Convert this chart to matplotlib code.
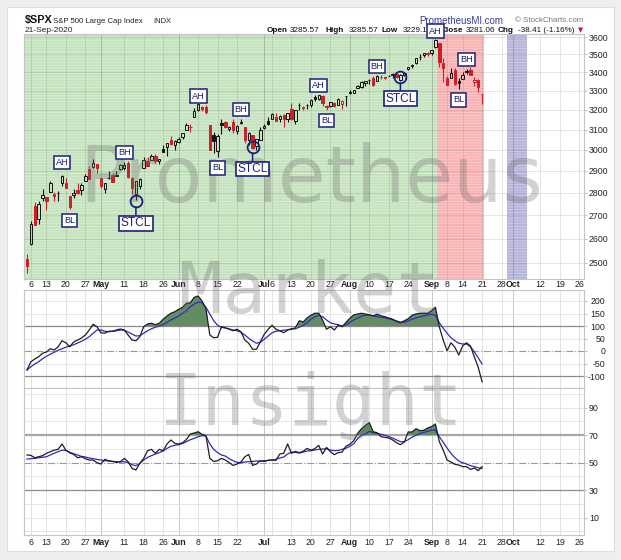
import matplotlib
matplotlib.use('Agg')
import matplotlib.pyplot as plt
from matplotlib.patches import Rectangle
from matplotlib.ticker import FixedLocator, NullLocator
import numpy as np
import pandas as pd

plt.rcParams['font.family'] = ['Liberation Sans', 'DejaVu Sans']
plt.rcParams['hatch.linewidth'] = 0.6

W, H = 621, 560

# --- data -------------------------------------------------------------
holidays = ['2020-04-10', '2020-05-25', '2020-07-03', '2020-09-07']
prev_close = 2526.90   # close before the first bar (Apr 2)

open_ = [2514.92, 2578.28, 2738.65, 2685.00, 2776.99, 2782.46, 2805.10, 2795.64, 2799.34, 2842.43,
         2845.62, 2784.81, 2787.89, 2810.42, 2812.64, 2854.65, 2909.96, 2918.46, 2930.91, 2869.09,
         2815.01, 2868.88, 2883.14, 2878.26, 2908.83, 2915.46, 2939.50, 2865.86, 2794.54, 2829.95,
         2913.86, 2948.59, 2953.63, 2969.95, 2948.05, 3004.08, 3015.65, 3046.61, 3025.17, 3038.78,
         3064.78, 3098.90, 3111.56, 3163.84, 3199.92, 3213.32, 3213.42, 3123.53, 3071.04, 2993.76,
         3131.00, 3136.13, 3101.64, 3140.29, 3094.42, 3138.70, 3114.40, 3046.60, 3073.20, 3018.59,
         3050.20, 3105.92, 3143.64, 3155.29, 3166.44, 3153.07, 3176.17, 3152.47, 3205.08, 3141.11,
         3225.98, 3208.36, 3224.21, 3224.29, 3268.52, 3254.86, 3271.64, 3218.58, 3219.84, 3234.27,
         3227.22, 3231.76, 3270.45, 3288.26, 3289.92, 3317.37, 3323.17, 3340.05, 3356.04, 3370.34,
         3355.46, 3372.95, 3368.66, 3380.86, 3387.04, 3392.51, 3360.48, 3386.01, 3418.09, 3435.95,
         3449.97, 3485.14, 3494.69, 3509.73, 3507.44, 3543.76, 3564.74, 3453.60, 3371.88, 3369.82,
         3412.56, 3352.70, 3363.56, 3407.73, 3411.23, 3346.86, 3357.38, 3285.57]
high = [2538.18, 2676.85, 2756.89, 2760.75, 2818.57, 2782.46, 2851.85, 2801.88, 2806.51, 2879.22,
        2868.98, 2785.54, 2815.10, 2844.90, 2842.71, 2887.72, 2921.15, 2954.86, 2930.91, 2869.09,
        2844.24, 2898.23, 2891.11, 2901.92, 2932.16, 2944.25, 2945.82, 2874.14, 2852.80, 2865.01,
        2968.09, 2964.21, 2980.29, 2978.50, 2956.76, 3021.72, 3036.25, 3068.67, 3049.17, 3062.18,
        3081.07, 3130.94, 3128.91, 3211.72, 3233.13, 3222.71, 3223.27, 3123.53, 3088.42, 3079.76,
        3153.45, 3141.16, 3120.00, 3155.53, 3120.92, 3154.90, 3115.01, 3086.25, 3073.73, 3053.89,
        3111.51, 3128.44, 3165.81, 3182.59, 3184.15, 3171.80, 3179.78, 3186.82, 3235.32, 3200.95,
        3238.28, 3220.39, 3233.52, 3258.61, 3277.29, 3279.32, 3279.99, 3227.26, 3241.43, 3243.72,
        3264.74, 3250.92, 3272.17, 3302.73, 3306.84, 3330.77, 3351.03, 3352.54, 3363.29, 3381.01,
        3387.89, 3387.24, 3378.51, 3387.59, 3395.06, 3399.54, 3390.80, 3399.96, 3432.09, 3444.21,
        3481.07, 3501.38, 3509.23, 3514.77, 3528.03, 3588.11, 3564.85, 3479.15, 3379.97, 3424.77,
        3425.55, 3368.95, 3402.93, 3419.48, 3428.92, 3375.17, 3362.27, 3285.57]
low = [2459.96, 2574.57, 2657.67, 2663.30, 2762.36, 2721.17, 2805.10, 2761.54, 2764.32, 2830.88,
       2820.43, 2727.10, 2775.95, 2794.26, 2791.76, 2852.89, 2860.71, 2912.16, 2892.47, 2821.61,
       2797.85, 2863.55, 2847.65, 2876.48, 2902.88, 2903.44, 2869.59, 2793.15, 2766.64, 2816.78,
       2913.86, 2922.35, 2953.63, 2938.57, 2933.59, 2988.17, 2969.75, 3023.40, 2998.61, 3031.54,
       3051.64, 3098.90, 3090.41, 3163.84, 3196.00, 3193.11, 3181.49, 2999.49, 2984.47, 2965.66,
       3076.06, 3108.03, 3093.51, 3083.11, 3079.39, 3127.12, 3032.13, 3024.01, 3004.63, 2999.74,
       3047.83, 3101.17, 3124.52, 3155.29, 3142.93, 3136.53, 3115.70, 3136.22, 3149.43, 3127.66,
       3200.76, 3198.59, 3205.65, 3215.16, 3247.77, 3253.10, 3222.66, 3200.05, 3214.25, 3216.17,
       3227.22, 3204.13, 3220.26, 3284.53, 3286.37, 3317.37, 3318.14, 3328.72, 3335.44, 3326.44,
       3355.46, 3363.35, 3361.64, 3379.22, 3370.15, 3369.66, 3354.69, 3379.31, 3413.13, 3425.84,
       3444.15, 3468.35, 3484.32, 3493.25, 3494.60, 3535.23, 3427.41, 3349.63, 3329.27, 3366.84,
       3329.25, 3310.47, 3363.56, 3389.25, 3384.45, 3328.82, 3292.40, 3229.10]
close = [2488.65, 2663.68, 2659.41, 2749.98, 2789.82, 2761.63, 2846.06, 2783.36, 2799.55, 2874.56,
         2823.16, 2736.56, 2799.31, 2797.80, 2836.74, 2878.48, 2863.39, 2939.51, 2912.43, 2830.71,
         2842.74, 2868.44, 2848.42, 2881.19, 2929.80, 2930.32, 2870.12, 2820.00, 2852.50, 2863.70,
         2953.91, 2922.94, 2971.61, 2948.51, 2955.45, 2991.77, 3036.13, 3029.73, 3044.31, 3055.73,
         3080.82, 3122.87, 3112.35, 3193.93, 3232.39, 3207.18, 3190.14, 3002.10, 3041.31, 3066.59,
         3124.74, 3113.49, 3115.34, 3097.74, 3117.86, 3131.29, 3050.33, 3083.76, 3009.05, 3053.24,
         3100.29, 3115.86, 3130.01, 3179.72, 3145.32, 3169.94, 3152.05, 3185.04, 3155.22, 3197.52,
         3226.56, 3215.57, 3224.73, 3251.84, 3257.30, 3276.02, 3235.66, 3215.63, 3239.41, 3218.44,
         3258.44, 3246.22, 3271.12, 3294.61, 3306.51, 3327.77, 3349.16, 3351.28, 3360.47, 3333.69,
         3380.35, 3373.43, 3372.85, 3381.99, 3389.78, 3374.85, 3385.51, 3397.16, 3431.28, 3443.62,
         3478.73, 3484.55, 3508.01, 3500.31, 3526.65, 3580.84, 3455.06, 3426.96, 3331.84, 3398.96,
         3339.19, 3340.97, 3383.54, 3401.20, 3385.49, 3357.01, 3319.47, 3281.06]

cci = [-76, -43, -32, -23, -9, -4, 9, 4, 17, 41,
       33, 17, 36, 44, 52, 64, 84, 107, 97, 73,
       71, 79, 79, 84, 88, 84, 64, 44, 41, 57,
       97, 108, 111, 105, 111, 127, 140, 151, 157, 167,
       175, 191, 193, 215, 220, 200, 170, 64, 53, 55,
       97, 93, 87, 81, 87, 77, 44, 31, 7, 7,
       37, 67, 87, 103, 87, 81, 73, 84, 89, 92,
       121, 116, 132, 143, 151, 151, 124, 87, 97, 84,
       103, 97, 114, 131, 144, 148, 151, 148, 145, 140,
       147, 141, 137, 132, 127, 119, 113, 121, 129, 143,
       148, 151, 151, 151, 161, 175, 97, 44, 1, 33,
       15, -16, 20, 33, 20, -23, -65, -123]
cci_avg = [-76, -63, -52, -43, -31, -21, -13, -5, 3, 9,
           15, 20, 25, 32, 39, 47, 57, 71, 84, 84,
           79, 77, 79, 81, 84, 83, 76, 68, 60, 61,
           71, 81, 89, 95, 100, 105, 115, 124, 132, 140,
           151, 161, 177, 188, 196, 193, 175, 148, 121, 103,
           95, 92, 88, 84, 81, 75, 64, 51, 40, 31,
           35, 47, 60, 73, 79, 81, 83, 85, 87, 89,
           95, 103, 113, 127, 137, 143, 137, 124, 113, 108,
           105, 100, 104, 115, 124, 132, 139, 143, 144, 141,
           137, 135, 133, 129, 125, 120, 115, 115, 121, 127,
           132, 137, 141, 144, 147, 143, 113, 91, 71, 53,
           41, 31, 28, 28, 17, -3, -27, -52]

rsi = [55.5, 55.2, 53.5, 54.2, 55.0, 56.7, 57.9, 59.0, 59.6, 63.5,
       59.0, 57.0, 56.0, 53.5, 54.2, 52.8, 51.8, 51.8, 49.9, 48.9,
       52.3, 51.3, 50.8, 50.1, 50.6, 53.0, 50.6, 45.8, 44.5, 49.4,
       53.0, 58.6, 59.6, 56.7, 59.6, 58.6, 63.5, 66.4, 63.9, 63.5,
       64.4, 66.8, 70.7, 71.5, 72.4, 70.5, 69.5, 53.0, 50.8, 51.3,
       53.0, 51.8, 49.9, 47.9, 48.9, 50.4, 54.2, 55.9, 47.9, 48.9,
       51.3, 50.8, 51.6, 51.8, 51.6, 56.2, 56.7, 63.5, 56.7, 58.1,
       57.2, 58.1, 60.3, 59.0, 60.1, 62.5, 56.2, 61.0, 57.9, 55.7,
       57.2, 57.6, 61.8, 63.3, 65.9, 71.2, 74.6, 77.0, 79.0, 72.4,
       71.7, 68.8, 68.3, 67.8, 66.4, 64.4, 63.0, 64.9, 72.2, 72.2,
       74.6, 73.2, 73.4, 75.1, 76.1, 78.0, 65.2, 59.1, 51.8, 50.4,
       48.7, 48.2, 47.0, 47.0, 45.0, 46.0, 44.1, 47.0]
rsi_avg = [52.5, 52.8, 53.0, 53.5, 53.8, 54.2, 55.5, 56.7, 57.9, 59.0,
           58.8, 57.4, 56.4, 55.5, 54.5, 54.0, 53.3, 52.8, 52.3, 51.8,
           51.3, 51.1, 50.8, 50.6, 50.4, 50.6, 49.9, 48.4, 47.7, 49.4,
           51.8, 53.8, 55.0, 56.2, 57.2, 58.4, 60.3, 61.8, 62.5, 63.0,
           63.9, 65.2, 66.6, 67.6, 68.8, 69.5, 69.3, 63.5, 59.6, 57.2,
           55.5, 54.7, 52.8, 51.3, 50.1, 49.9, 50.4, 50.6, 50.8, 51.1,
           51.1, 51.3, 51.6, 51.8, 52.3, 53.3, 54.0, 56.2, 57.6, 57.4,
           56.9, 57.6, 58.4, 58.6, 59.1, 59.6, 59.8, 60.1, 59.1, 58.6,
           58.8, 59.6, 60.4, 61.8, 63.7, 67.3, 69.8, 70.7, 72.7, 71.7,
           71.2, 70.5, 69.8, 68.8, 67.8, 66.4, 65.2, 65.2, 66.6, 68.5,
           69.8, 71.0, 71.9, 72.7, 73.6, 73.6, 68.8, 64.7, 60.5, 56.7,
           53.5, 51.1, 49.9, 48.9, 47.7, 47.0, 46.2, 45.8]

tick_dates = ['2020-04-06', '2020-04-13', '2020-04-20', '2020-04-27', '2020-05-01', '2020-05-11',
              '2020-05-18', '2020-05-26', '2020-06-01', '2020-06-08', '2020-06-15', '2020-06-22',
              '2020-07-01', '2020-07-06', '2020-07-13', '2020-07-20', '2020-07-27', '2020-08-03',
              '2020-08-10', '2020-08-17', '2020-08-24', '2020-09-01', '2020-09-08', '2020-09-14',
              '2020-09-21', '2020-09-28', '2020-10-01', '2020-10-12', '2020-10-19', '2020-10-26']
tick_labels = ['6', '13', '20', '27', 'May', '11', '18', '26', 'Jun', '8', '15', '22', 'Jul', '6',
               '13', '20', '27', 'Aug', '10', '17', '24', 'Sep', '8', '14', '21', '28', 'Oct',
               '12', '19', '26']
bottom_labels = ['6', '13', '20', '27', 'May', '11', '18', '26', 'Jun', '8', '15', '22', 'Jul', '',
                 '13', '20', '27', 'Aug', '10', '17', '24', 'Sep', '8', '14', '21', '28', 'Oct',
                 '12', '19', '26']
months = ['May', 'Jun', 'Jul', 'Aug', 'Sep', 'Oct']

price_ticks = [2500, 2600, 2700, 2800, 2900, 3000, 3100, 3200, 3300, 3400, 3500, 3600]
cci_ticks = [200, 150, 100, 50, 0, -50, -100]
rsi_ticks = [90, 70, 50, 30, 10]

# shaded periods: (first day, last day, colour)
periods = [(None, '2020-09-02', '#c4e3be'),
           ('2020-09-03', '2020-09-21', '#f9b3b3'),
           ('2020-09-30', '2020-10-06', '#b4b4dc')]

# labels on the price chart: (text, day, price)
marks = [('AH', '2020-04-17', 2938), ('BL', '2020-04-21', 2676), ('BH', '2020-05-11', 2986),
         ('AH', '2020-06-08', 3273), ('BL', '2020-06-15', 2914), ('BH', '2020-06-23', 3200),
         ('AH', '2020-07-22', 3327), ('BL', '2020-07-24', 3144), ('BH', '2020-08-12', 3430),
         ('AH', '2020-09-02', 3635), ('BH', '2020-09-15', 3474), ('BL', '2020-09-11', 3252)]
# STCL: (day, circled price, label price)
stcl = [('2020-05-14', 2763, 2666), ('2020-06-26', 3015, 2909), ('2020-08-20', 3375, 3258)]

# --- calendar ---------------------------------------------------------
days = pd.bdate_range('2020-04-03', '2020-10-30')
days = days[~days.isin(pd.to_datetime(holidays))]
pos = {d.strftime('%Y-%m-%d'): i for i, d in enumerate(days)}
x = np.arange(len(close))
XL = (-0.77, 143.2)


def rect(l, t, r, b):
    return [l / W, 1 - b / H, (r - l) / W, (b - t) / H]


def fx(px, py):
    return px / W, 1 - py / H


fig = plt.figure(figsize=(W / 100, H / 100), dpi=100, facecolor='#efefef')
fig.patches.append(Rectangle(fx(7, 551), 607 / W, 544 / H, transform=fig.transFigure,
                             facecolor='white', edgecolor='#dddddd', lw=0.8, zorder=-10))

ax_p = fig.add_axes(rect(24, 34, 584, 279))
ax_c = fig.add_axes(rect(24, 290, 584, 388))
ax_r = fig.add_axes(rect(24, 388, 584, 535))

tick_x = [pos[d] for d in tick_dates]
month_x = [pos[d] for d, l in zip(tick_dates, tick_labels) if l in months]

for ax in (ax_p, ax_c, ax_r):
    ax.set_xlim(*XL)
    for s in ax.spines.values():
        s.set_color('#c4c4c4')
        s.set_linewidth(0.8)
    ax.yaxis.tick_right()
    ax.tick_params(axis='y', length=2, width=0.5, color='#aaaaaa', labelsize=6.3,
                   labelcolor='#222222', pad=1.5)
    ax.tick_params(axis='x', length=0, labelsize=6.3, labelcolor='#222222')

# --- price panel ------------------------------------------------------
ax_p.set_yscale('log')
ax_p.set_ylim(2436, 3617.5)
ax_p.yaxis.set_major_locator(FixedLocator(price_ticks))
ax_p.yaxis.set_minor_locator(NullLocator())
ax_p.set_yticklabels([str(v) for v in price_ticks])

for start, end, col in periods:
    a = XL[0] if start is None else pos[start] - 0.5
    b = pos[end] + 0.5
    ax_p.axvspan(a, b, facecolor=col, edgecolor=(1, 1, 1, 0.35), hatch='------', lw=0, zorder=0)

for v in price_ticks:
    ax_p.axhline(v, color=(0.45, 0.45, 0.45, 0.22), lw=0.6, zorder=1)
for t in tick_x:
    c = (0.35, 0.35, 0.35, 0.35) if t in month_x else (0.45, 0.45, 0.45, 0.22)
    ax_p.axvline(t, color=c, lw=0.6, zorder=1)

pc = np.r_[prev_close, close[:-1]]
for i in x:
    o, h, l, c = open_[i], high[i], low[i], close[i]
    col = '#111111' if c >= pc[i] else '#cc1f2a'
    face = col if c < o else 'none'
    lo, hi = min(o, c), max(o, c)
    ax_p.vlines(i, l, lo, color=col, lw=0.8, zorder=3)
    ax_p.vlines(i, hi, h, color=col, lw=0.8, zorder=3)
    ax_p.bar(i, max(hi - lo, 0.8), bottom=lo, width=0.62, facecolor=face, edgecolor=col,
             linewidth=0.7, zorder=4)

ax_p.set_xticks(tick_x)
ax_p.set_xticklabels(tick_labels)
ax_p.tick_params(axis='x', pad=1)

# --- CCI panel ----------------------------------------------------------
ax_c.set_ylim(-148, 244)
ax_c.set_yticks(cci_ticks)
ax_c.set_yticklabels([str(v) for v in cci_ticks])
for lab in ax_c.get_yticklabels():
    lab.set_horizontalalignment('right')
ax_c.tick_params(axis='y', pad=13.2)
for v in (200, 150, 50, -50):
    ax_c.axhline(v, color='#e2e2e2', lw=0.6, zorder=1)
ax_c.axhline(100, color='#8a8a8a', lw=0.9, zorder=1)
ax_c.axhline(-100, color='#8a8a8a', lw=0.9, zorder=1)
ax_c.axhline(0, color='#9a9a9a', lw=0.8, ls='-.', zorder=1)
ax_c.set_xticks(tick_x)
ax_c.tick_params(axis='x', labelbottom=False)

ci = np.array(cci, float)
ax_c.fill_between(x, 100, ci, where=ci > 100, interpolate=True, color='#628c62', lw=0, zorder=2)
ax_c.plot(x, cci_avg, color='#2b2bc4', lw=0.9, zorder=3)
ax_c.plot(x, ci, color='#1e1e1e', lw=0.9, zorder=4)

# --- RSI panel ------------------------------------------------------------
ax_r.set_ylim(-2.7, 104.2)
ax_r.set_yticks(rsi_ticks)
ax_r.set_yticklabels([str(v) for v in rsi_ticks])
for v in (100, 90, 80, 60, 40, 20, 10, 0):
    ax_r.axhline(v, color='#e2e2e2', lw=0.6, zorder=1)
ax_r.axhline(70, color='#a8a8a8', lw=1.6, zorder=1)
ax_r.axhline(30, color='#8a8a8a', lw=0.9, zorder=1)
ax_r.axhline(50, color='#9a9a9a', lw=0.8, ls='-.', zorder=1)
ax_r.set_xticks(tick_x)
ax_r.set_xticklabels(bottom_labels)
ax_r.tick_params(axis='x', pad=2.5)

ri = np.array(rsi, float)
ax_r.fill_between(x, 70, ri, where=ri > 70, interpolate=True, color='#628c62', lw=0, zorder=2)
ax_r.plot(x, rsi_avg, color='#2b2bc4', lw=0.9, zorder=3)
ax_r.plot(x, ri, color='#1e1e1e', lw=0.9, zorder=4)

for ax in (ax_c, ax_r):
    for t in tick_x:
        c = '#c8c8c8' if t in month_x else '#e2e2e2'
        ax.axvline(t, color=c, lw=0.7, zorder=0.5)

for ax in (ax_p, ax_r):
    for lab in ax.get_xticklabels():
        if lab.get_text() in months:
            lab.set_fontweight('bold')

# --- watermark ------------------------------------------------------------
wm = dict(color=(0.42, 0.42, 0.42, 0.30), ha='center', va='baseline', zorder=5)
fig.text(*fx(311, 202), 'Prometheus', fontsize=56, family='DejaVu Sans', **wm)
fig.text(*fx(309, 313), 'Market', fontsize=52, family='DejaVu Sans Mono', **wm)
fig.text(*fx(311, 425), 'Insight', fontsize=52, family='DejaVu Sans Mono', **wm)

# --- signal labels on an overlay -------------------------------------------
navy = '#1b1f7a'
ax_o = fig.add_axes(rect(24, 34, 584, 279), facecolor='none', zorder=10)
ax_o.set_yscale('log')
ax_o.set_ylim(ax_p.get_ylim())
ax_o.set_xlim(*XL)
ax_o.axis('off')
small = dict(boxstyle='square,pad=0.22', fc='white', ec=navy, lw=1.1)
for txt, d, p in marks:
    ax_o.text(pos[d], p, txt, ha='center', va='center', fontsize=6.6, color=navy,
              bbox=small, clip_on=False)
big = dict(boxstyle='square,pad=0.12', fc='white', ec=navy, lw=1.2)
for d, pc_, pl in stcl:
    ax_o.annotate('STCL', xy=(pos[d], pc_), xytext=(pos[d], pl), ha='center', va='center',
                  fontsize=8.6, color=navy, bbox=big,
                  arrowprops=dict(arrowstyle='-', color=navy, lw=1.1, shrinkA=0, shrinkB=4.3))
    ax_o.plot(pos[d], pc_, 'o', ms=8.5, mfc='none', mec=navy, mew=1.3)

# --- header ---------------------------------------------------------------
fig.text(*fx(25, 23), '$SPX', fontsize=7.8, fontweight='bold', color='#111111')
fig.text(*fx(53, 23), 'S&P 500 Large Cap Index', fontsize=5.6, color='#222222')
fig.text(*fx(153, 23), 'INDX', fontsize=5.4, color='#222222')
fig.text(*fx(25, 32), '21-Sep-2020', fontsize=6.0, color='#222222')
fig.text(*fx(419, 23.5), 'PrometheusMI.com', fontsize=7.0, color='#3a3a9e')
fig.text(*fx(515, 22.5), '\u00a9 StockCharts.com', fontsize=5.7, color='#777777')

header = [('Open', 267, True), ('3285.57', 290, False), ('High', 326, True),
          ('3285.57', 349, False), ('Low', 382, True), ('3229.1', 403, False),
          ('Close', 441, True), ('3281.06', 466, False), ('Chg', 498, True),
          ('-38.41 (-1.16%)', 518, False)]
for txt, px_, bold in header:
    fig.text(*fx(px_, 32), txt, fontsize=5.9, color='#111111',
             fontweight='bold' if bold else 'normal')
fig.text(*fx(578, 32), '\u25bc', fontsize=4.8, color='#c0184a', family='DejaVu Sans')

fig.savefig('out.png', dpi=100, facecolor=fig.get_facecolor())
